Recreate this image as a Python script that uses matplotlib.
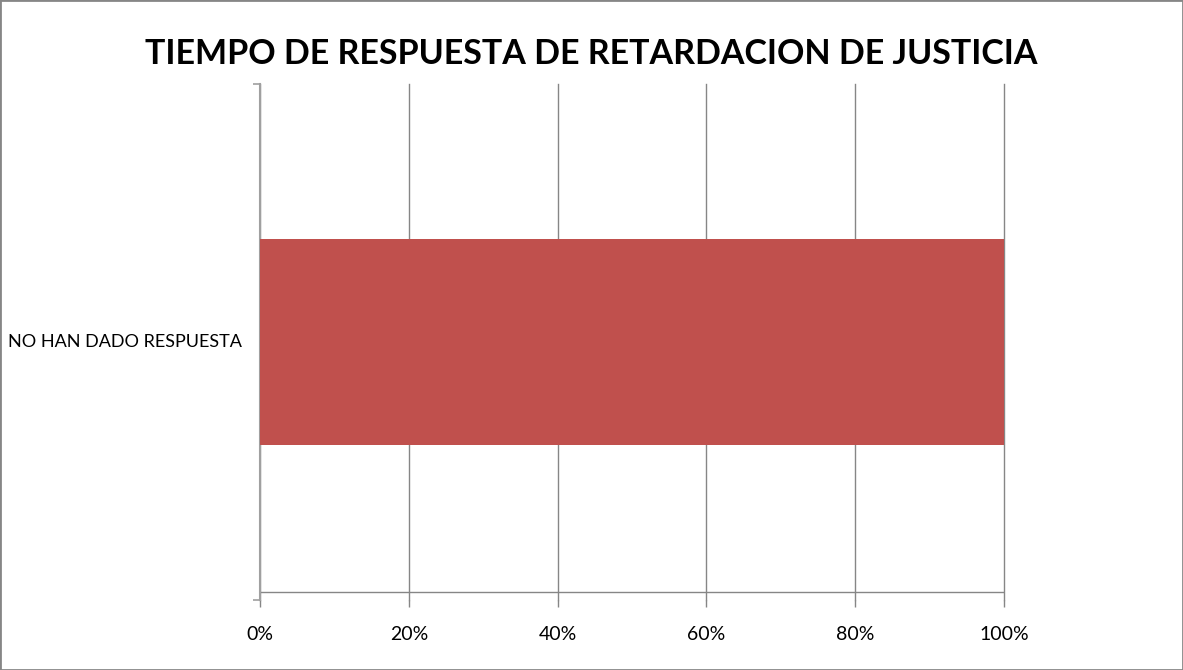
import matplotlib.pyplot as plt
from matplotlib.patches import Rectangle
from matplotlib.ticker import PercentFormatter

plt.rcParams['font.family'] = ['Lato', 'DejaVu Sans']

# data
categories = ['NO HAN DADO RESPUESTA']
values = [100]
x_ticks = [0, 20, 40, 60, 80, 100]
title = 'TIEMPO DE RESPUESTA DE RETARDACION DE JUSTICIA'

W, H = 1183, 670
fig = plt.figure(figsize=(W / 100, H / 100), dpi=100)
ax = fig.add_axes([260 / W, 1 - 600 / H, (1004 - 260) / W, (600 - 84) / H])

ax.barh(range(len(categories)), values, height=0.4, color='#C0504D', zorder=3)

ax.set_xlim(0, 100)
ax.set_ylim(-0.5, 0.5)
ax.set_xticks(x_ticks)
ax.xaxis.set_major_formatter(PercentFormatter(decimals=0))
ax.set_yticks([-0.5, 0.5])
ax.set_yticklabels(['', ''])
ax.tick_params(axis='y', length=5, color='#A0A0A0', width=1.2)
ax.tick_params(axis='x', length=5, color='#868686', width=1, labelsize=14, pad=14)
ax.grid(axis='x', color='#868686', linewidth=1, zorder=0)
for gl in ax.get_xgridlines():
    gl.set_clip_on(False)

for s in ['top', 'right', 'bottom']:
    ax.spines[s].set_visible(False)
ax.spines['left'].set_color('#A0A0A0')
ax.spines['left'].set_linewidth(1.5)
ax.axhline(-0.4845, color='#868686', linewidth=1, zorder=1)

# category label
for i, c in enumerate(categories):
    ax.text(-0.024, i, c, transform=ax.get_yaxis_transform(), ha='right', va='center', fontsize=13)

fig.text(0.5, 1 - 54 / H, title, ha='center', va='center', fontsize=24.5, fontweight='bold')

fig.patches.append(Rectangle((0, 0), 1, 1, transform=fig.transFigure, fill=False,
                             edgecolor='#868686', linewidth=2))

fig.savefig('out.png', dpi=100)
